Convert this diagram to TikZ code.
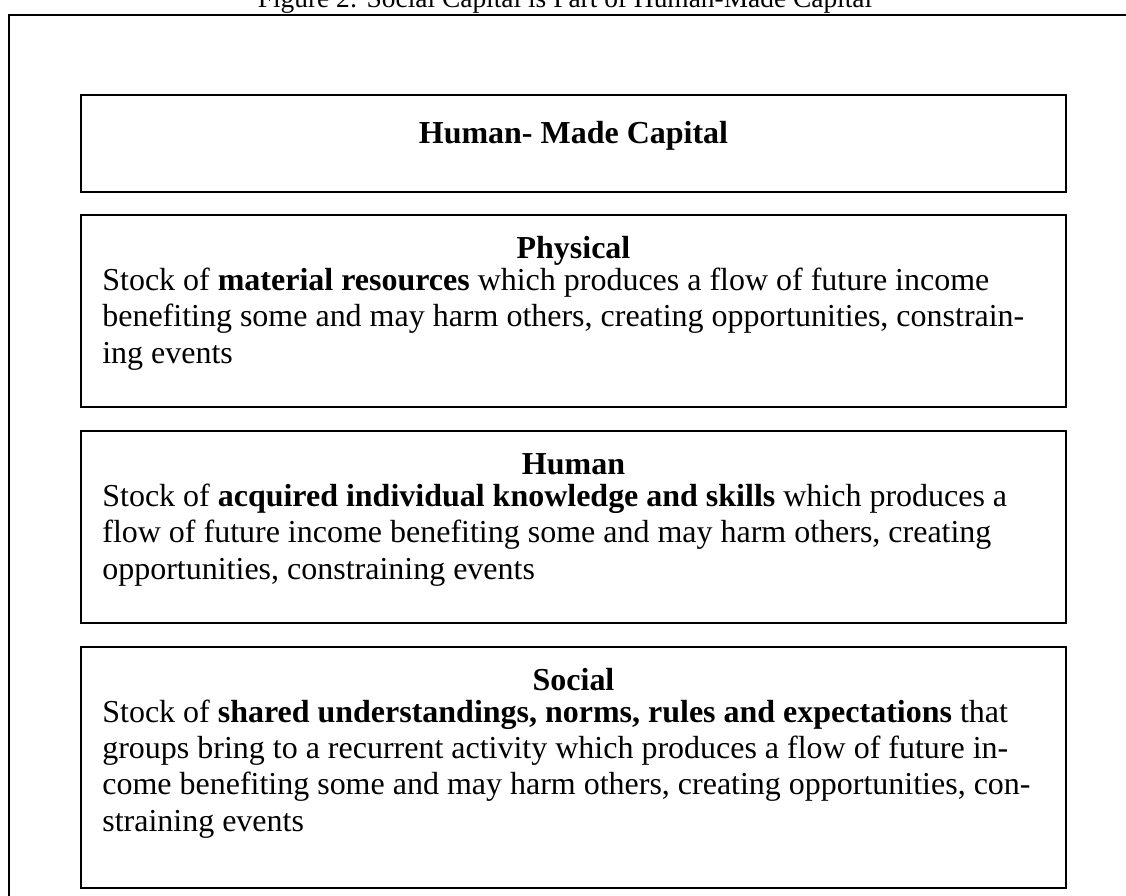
\documentclass[tikz,border=0pt]{standalone}
\usepackage{fontspec}
\setmainfont{Liberation Serif}
\usetikzlibrary{positioning}

\begin{document}
\begin{tikzpicture}[
  font=\fontsize{18.2}{20.5}\selectfont,
  frame/.style={
    draw,
    line width=1.4pt
  },
  capbox/.style={
    draw,
    rectangle,
    anchor=north west,
    inner sep=0pt,
    outer sep=0pt,
    minimum width=19.70cm,
    line width=1.1pt
  },
  heading/.style={
    anchor=base,
    inner sep=0pt,
    font=\fontsize{18.2}{20.5}\selectfont\bfseries
  },
  body/.style={
    anchor=base west,
    align=left,
    inner sep=0pt
  }
]

\useasboundingbox (0,0) rectangle (22.52,-17.90);

\node[anchor=base, inner sep=0pt, font=\fontsize{15.6}{18}\selectfont] (figtitle) at (11.3,-0.16)
  {Figure 2: Social Capital is Part of Human-Made Capital};

\draw[frame] (0.18,-0.30) rectangle (23.2,-18.6);

\node[capbox, minimum height=1.94cm] (hmc) at (1.62,-1.90) {};
\node[capbox, minimum height=3.84cm] (physical) at (1.62,-4.30) {};
\node[capbox, minimum height=3.84cm] (human) at (1.62,-8.62) {};
\node[capbox, minimum height=4.82cm] (social) at (1.62,-12.94) {};

\node[heading] (hmctext) at ([yshift=-0.96cm]hmc.north) {Human- Made Capital};

% body nodes sit on the baseline of their last line
\node[heading] (physhead) at ([yshift=-0.86cm]physical.north) {Physical};
\node[body] (physbody) at ([xshift=0.42cm, yshift=-2.96cm]physical.north west) {
  Stock of \textbf{material resources} which produces a flow of future income\\
  benefiting some and may harm others, creating opportunities, constrain-\\
  ing events
};

\node[heading] (humhead) at ([yshift=-0.86cm]human.north) {Human};
\node[body] (humbody) at ([xshift=0.42cm, yshift=-2.96cm]human.north west) {
  Stock of \textbf{acquired individual knowledge and skills} which produces a\\
  flow of future income benefiting some and may harm others, creating\\
  opportunities, constraining events
};

\node[heading] (sochead) at ([yshift=-0.86cm]social.north) {Social};
\node[body] (socbody) at ([xshift=0.42cm, yshift=-3.68cm]social.north west) {
  Stock of \textbf{shared understandings, norms, rules and expectations} that\\
  groups bring to a recurrent activity which produces a flow of future in-\\
  come benefiting some and may harm others, creating opportunities, con-\\
  straining events
};

\end{tikzpicture}
\end{document}
